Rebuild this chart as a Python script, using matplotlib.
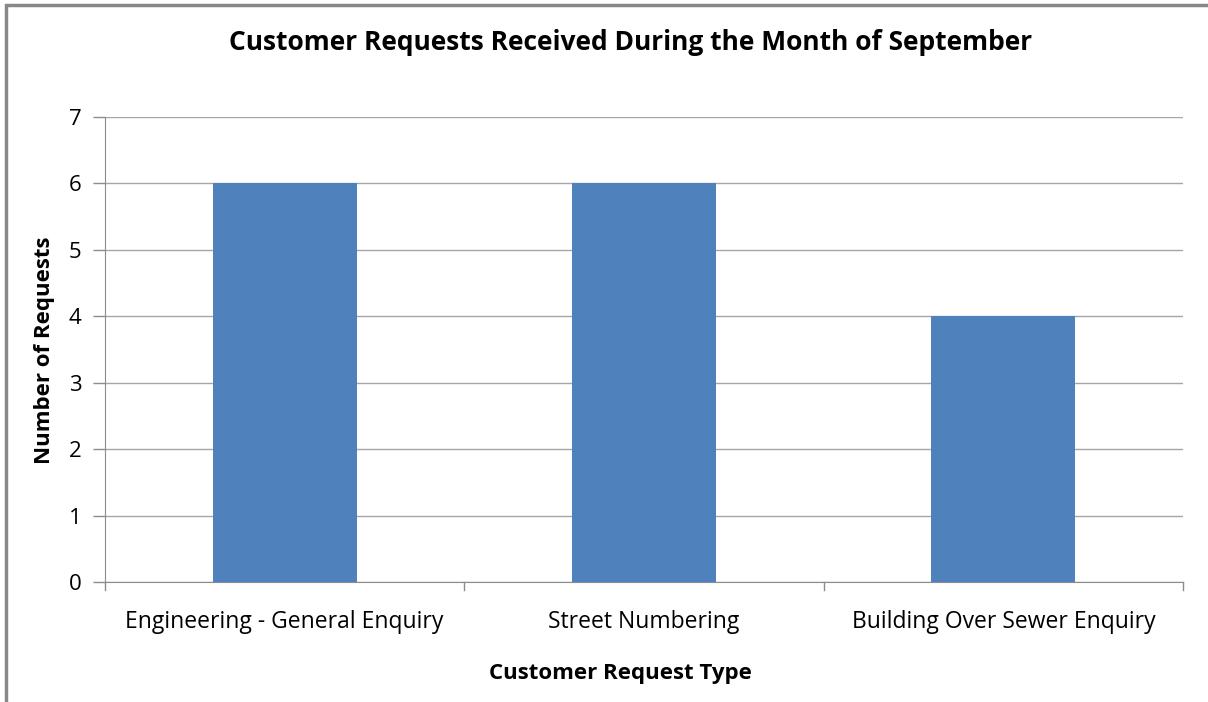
import matplotlib.pyplot as plt
from matplotlib.patches import Rectangle

categories = ["Engineering - General Enquiry", "Street Numbering", "Building Over Sewer Enquiry"]
requests = [6, 6, 4]
y_ticks = [0, 1, 2, 3, 4, 5, 6, 7]

plt.rcParams.update({"font.family": ["Open Sans", "DejaVu Sans"], "font.size": 14})

W, H = 1208, 702
fig = plt.figure(figsize=(W / 100, H / 100), dpi=100)
ax = fig.add_axes([105 / W, 1 - 582 / H, (1183 - 105) / W, (582 - 117) / H])

x = range(len(categories))
ax.bar(x, requests, width=0.4, color="#4f81bd", zorder=3)

ax.set_xlim(-0.5, len(categories) - 0.5)
ax.set_ylim(0, 7)
ax.set_yticks(y_ticks)
ax.set_xticks(list(x))
ax.set_xticklabels(categories, fontsize=16.5)
ax.tick_params(axis="x", length=0, pad=20)
ax.tick_params(axis="y", length=9, width=1, color="#8c8c8c", pad=8, labelsize=16)
for b in [-0.5, 0.5, 1.5, 2.5]:
    ax.plot([b, b], [0, -0.12], color="#8c8c8c", lw=1, clip_on=False)

ax.grid(axis="y", color="#a6a6a6", lw=1, zorder=0)
for s in ["top", "right"]:
    ax.spines[s].set_visible(False)
ax.spines["left"].set_color("#8c8c8c")
ax.spines["bottom"].set_color("#8c8c8c")

fig.text(631 / W, 1 - 42 / H, "Customer Requests Received During the Month of September",
         ha="center", va="center", fontsize=19, fontweight="bold")
fig.text(620 / W, 1 - 674 / H, "Customer Request Type", ha="center", va="center",
         fontsize=16, fontweight="bold")
fig.text(45 / W, 1 - 350 / H, "Number of Requests", ha="center", va="center",
         rotation=90, fontsize=16, fontweight="bold")

fig.add_artist(Rectangle((6 / W, -0.1), 1.1, 1 - 5 / H + 0.1, transform=fig.transFigure,
                         fill=False, edgecolor="#888888", lw=2.5, clip_on=False))

fig.savefig("out.png", dpi=100)
